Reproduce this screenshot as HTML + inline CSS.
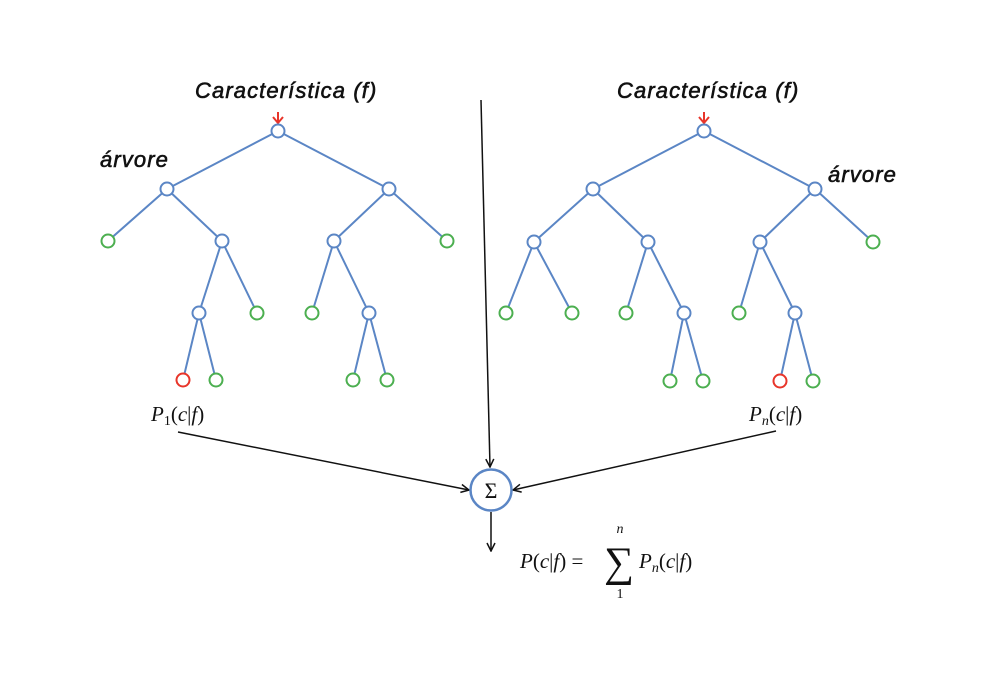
<!DOCTYPE html>
<html><head><style>body{margin:0;background:#fff}svg{display:block}</style></head><body>
<svg width="1000" height="679" viewBox="0 0 1000 679" xmlns="http://www.w3.org/2000/svg">
<defs><marker id="a" markerWidth="10" markerHeight="10" refX="9" refY="5" orient="auto" markerUnits="userSpaceOnUse"><path d="M1,1 L9,5 L1,9" fill="none" stroke="#111" stroke-width="1.5"/></marker></defs>
<g font-family="Liberation Sans, sans-serif" font-style="italic" font-size="22" fill="#111" stroke="#111" stroke-width="0.6" letter-spacing="1.1">
<text x="195" y="98">Característica (f)</text>
<text x="617" y="98">Característica (f)</text>
<text x="100" y="167">árvore</text>
<text x="828" y="182">árvore</text>
</g>
<g stroke="#e8352a" stroke-width="2" fill="none">
<path d="M278,112 L278,123 M273,117 L278,123 L283,117"/>
<path d="M704,112 L704,123 M699,117 L704,123 L709,117"/>
</g>
<g stroke="#5b86c5" stroke-width="2" fill="none">
<path d="M278,131 L167,189 M278,131 L389,189 M167,189 L108,241 M167,189 L222,241 M389,189 L334,241 M389,189 L447,241 M222,241 L199,313 M222,241 L257,313 M334,241 L312,313 M334,241 L369,313 M199,313 L183,380 M199,313 L216,380 M369,313 L353,380 M369,313 L387,380"/>
<path d="M704,131 L593,189 M704,131 L815,189 M593,189 L534,242 M593,189 L648,242 M815,189 L760,242 M815,189 L873,242 M534,242 L506,313 M534,242 L572,313 M648,242 L626,313 M648,242 L684,313 M760,242 L739,313 M760,242 L795,313 M684,313 L670,381 M684,313 L703,381 M795,313 L780,381 M795,313 L813,381"/>
</g>
<g stroke="#5b86c5" stroke-width="2" fill="#fff">
<circle cx="278" cy="131" r="6.5"/><circle cx="167" cy="189" r="6.5"/><circle cx="389" cy="189" r="6.5"/><circle cx="222" cy="241" r="6.5"/><circle cx="334" cy="241" r="6.5"/><circle cx="199" cy="313" r="6.5"/><circle cx="369" cy="313" r="6.5"/>
<circle cx="704" cy="131" r="6.5"/><circle cx="593" cy="189" r="6.5"/><circle cx="815" cy="189" r="6.5"/><circle cx="534" cy="242" r="6.5"/><circle cx="648" cy="242" r="6.5"/><circle cx="760" cy="242" r="6.5"/><circle cx="684" cy="313" r="6.5"/><circle cx="795" cy="313" r="6.5"/>
</g>
<g stroke="#4caf50" stroke-width="2" fill="#fff">
<circle cx="108" cy="241" r="6.5"/><circle cx="447" cy="241" r="6.5"/><circle cx="257" cy="313" r="6.5"/><circle cx="312" cy="313" r="6.5"/><circle cx="216" cy="380" r="6.5"/><circle cx="353" cy="380" r="6.5"/><circle cx="387" cy="380" r="6.5"/>
<circle cx="873" cy="242" r="6.5"/><circle cx="506" cy="313" r="6.5"/><circle cx="572" cy="313" r="6.5"/><circle cx="626" cy="313" r="6.5"/><circle cx="739" cy="313" r="6.5"/><circle cx="670" cy="381" r="6.5"/><circle cx="703" cy="381" r="6.5"/><circle cx="813" cy="381" r="6.5"/>
</g>
<g stroke="#e8352a" stroke-width="2" fill="#fff">
<circle cx="183" cy="380" r="6.5"/><circle cx="780" cy="381" r="6.5"/>
</g>
<g stroke="#111" stroke-width="1.5" fill="none">
<line x1="481" y1="100" x2="490" y2="467" marker-end="url(#a)"/>
<line x1="178" y1="432" x2="469" y2="490" marker-end="url(#a)"/>
<line x1="776" y1="431" x2="513" y2="490" marker-end="url(#a)"/>
<line x1="491" y1="512" x2="491" y2="551" marker-end="url(#a)"/>
</g>
<circle cx="491" cy="490" r="20.5" stroke="#5b86c5" stroke-width="2.5" fill="#fff"/>
<g font-family="Liberation Serif, serif" fill="#111">
<text x="491" y="498" font-size="22" text-anchor="middle">Σ</text>
<text x="151" y="421" font-size="21"><tspan font-style="italic">P</tspan><tspan font-size="14" dy="4">1</tspan><tspan dy="-4">(</tspan><tspan font-style="italic">c</tspan>|<tspan font-style="italic">f</tspan>)</text>
<text x="749" y="421" font-size="21"><tspan font-style="italic">P</tspan><tspan font-size="14" dy="4" font-style="italic">n</tspan><tspan dy="-4">(</tspan><tspan font-style="italic">c</tspan>|<tspan font-style="italic">f</tspan>)</text>
<text x="520" y="568" font-size="21"><tspan font-style="italic">P</tspan>(<tspan font-style="italic">c</tspan>|<tspan font-style="italic">f</tspan>) =</text>
<text x="619" y="576" font-size="42" text-anchor="middle">∑</text>
<text x="620" y="533" font-size="14" font-style="italic" text-anchor="middle">n</text>
<text x="620" y="598" font-size="14" text-anchor="middle">1</text>
<text x="639" y="568" font-size="21"><tspan font-style="italic">P</tspan><tspan font-size="14" dy="4" font-style="italic">n</tspan><tspan dy="-4">(</tspan><tspan font-style="italic">c</tspan>|<tspan font-style="italic">f</tspan>)</text>
</g>
</svg>
</body></html>
